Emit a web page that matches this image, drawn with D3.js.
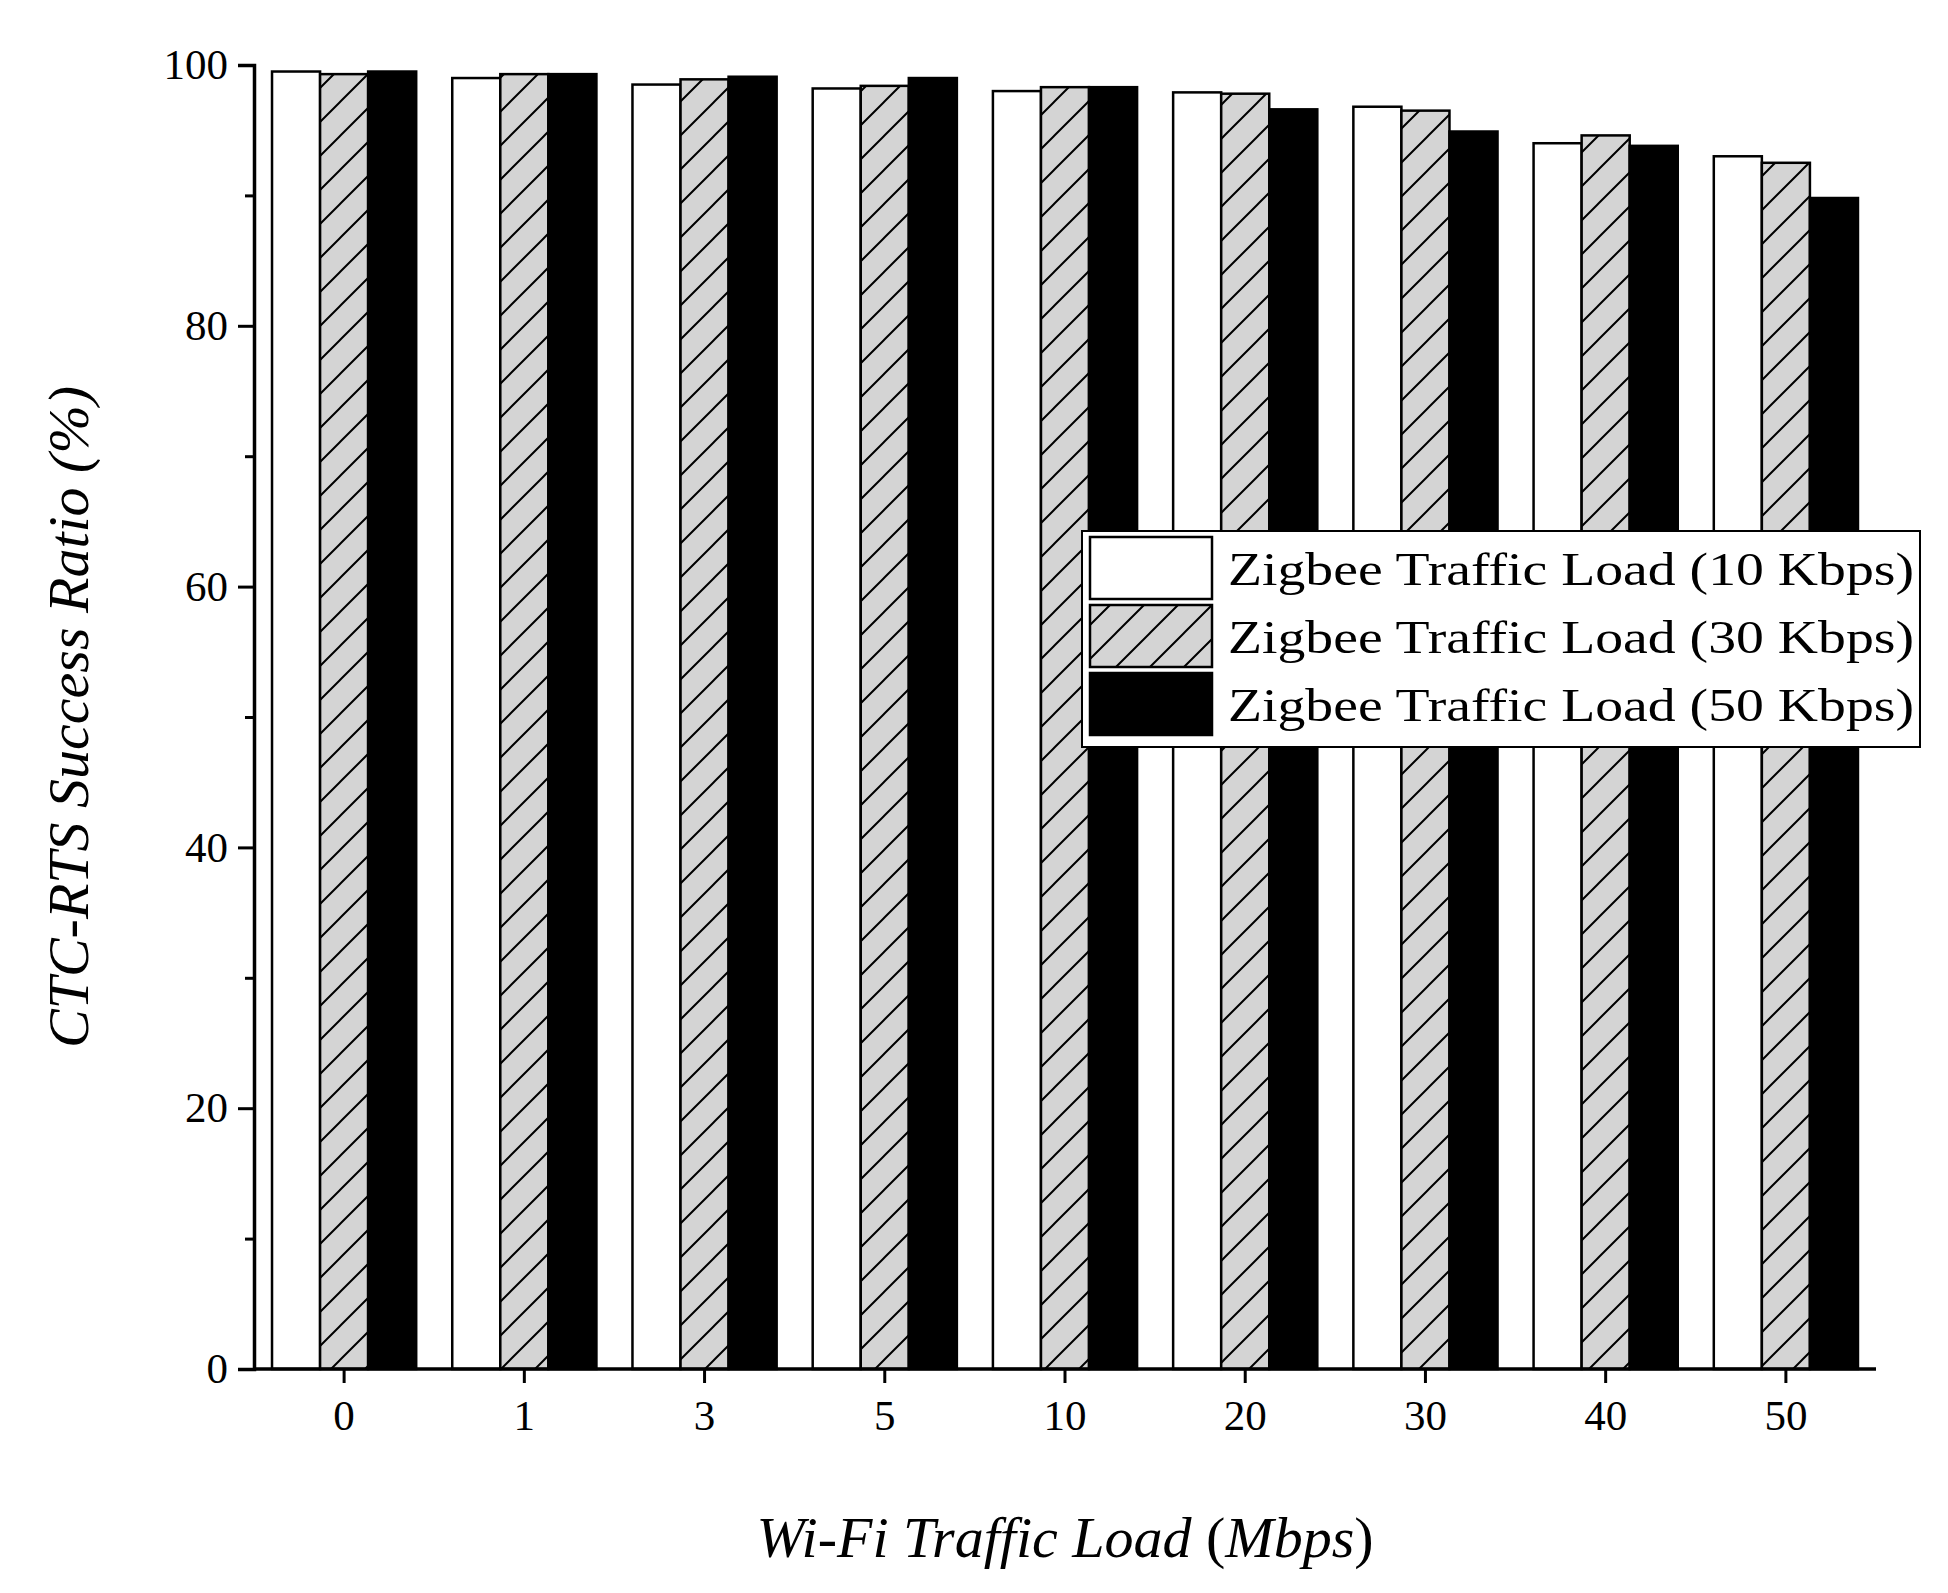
<!DOCTYPE html>
<html><head><meta charset="utf-8">
<script src="https://cdn.jsdelivr.net/npm/d3@7"></script>
<style>body{margin:0;background:#fff}</style></head>
<body><svg id="c" width="1948" height="1593"></svg>
<script>
const categories = ["0","1","3","5","10","20","30","40","50"];
const seriesNames = ["Zigbee Traffic Load (10 Kbps)","Zigbee Traffic Load (30 Kbps)","Zigbee Traffic Load (50 Kbps)"];
const s10 = [99.5,99.0,98.5,98.2,98.0,97.9,96.8,94.0,93.0];
const s30 = [99.3,99.3,98.9,98.4,98.3,97.8,96.5,94.6,92.5];
const s50 = [99.5,99.3,99.1,99.0,98.3,96.6,94.9,93.8,89.8];
const yTicks = [0,20,40,60,80,100];
const series = [s10,s30,s50];

const svg = d3.select("#c");
const L=254,R=1876,T=65,B=1369;
const defs = svg.append("defs");
const P=34;
const pat = defs.append("pattern").attr("id","hatch").attr("patternUnits","userSpaceOnUse")
  .attr("width",P).attr("height",P);
pat.append("rect").attr("width",P).attr("height",P).attr("fill","#d4d4d4");
pat.append("path").attr("d",`M-4,${P+4}L${P+4},-4M-4,4L4,-4M${P-4},${P+4}L${P+4},${P-4}`)
  .attr("stroke","#000").attr("stroke-width",2);
const fills = ["#fff","url(#hatch)","#000"];

const x = d3.scaleBand().domain(categories).range([L,R]).paddingInner(0.2).paddingOuter(0.1);
const xs = d3.scaleBand().domain([0,1,2]).range([0,x.bandwidth()]);
const y = d3.scaleLinear().domain([0,100]).range([B,T]);

series.forEach((s,i)=>{
  svg.append("g").selectAll("rect").data(s).join("rect")
    .attr("x",(d,j)=>x(categories[j])+xs(i)).attr("y",d=>y(d))
    .attr("width",xs.bandwidth()).attr("height",d=>B-y(d))
    .attr("fill",fills[i]).attr("stroke","#000").attr("stroke-width",2.5);
});

const font="'Liberation Serif','Times New Roman',serif";
svg.append("g").attr("transform",`translate(${L},0)`)
  .call(d3.axisLeft(y).tickValues(yTicks).tickSize(16).tickPadding(10));
svg.append("g").attr("transform",`translate(${L},0)`)
  .call(d3.axisLeft(y).tickValues(d3.range(10,100,20)).tickSize(9).tickFormat(""))
  .call(g=>g.select(".domain").remove());
const xa = svg.append("g").attr("transform",`translate(0,${B})`)
  .call(d3.axisBottom(x).tickSize(14).tickPadding(16).tickSizeOuter(0));
xa.select(".domain").attr("d",`M${L},0H${R}`);
svg.selectAll(".domain").attr("stroke-width",3.5);
svg.selectAll(".tick line").attr("stroke-width",3);
svg.selectAll(".tick text").attr("font-family",font).attr("font-size",43).attr("fill","#000");

svg.append("text").attr("transform",`translate(88,${(T+B)/2}) rotate(-90)`)
  .attr("text-anchor","middle").attr("font-family",font).attr("font-size",58).attr("font-style","italic")
  .text("CTC-RTS Success Ratio (%)");
const xt = svg.append("text").attr("x",(L+R)/2).attr("y",1557).attr("text-anchor","middle")
  .attr("font-family",font).attr("font-size",58);
xt.append("tspan").attr("font-style","italic").text("Wi-Fi Traffic Load ");
xt.append("tspan").text("(");
xt.append("tspan").attr("font-style","italic").text("Mbps");
xt.append("tspan").text(")");

const lg = svg.append("g").attr("transform","translate(1082,531)");
lg.append("rect").attr("width",838).attr("height",216).attr("fill","#fff").attr("stroke","#000").attr("stroke-width",2);
seriesNames.forEach((n,i)=>{
  lg.append("rect").attr("x",8).attr("y",6+i*68).attr("width",122).attr("height",62)
    .attr("fill",fills[i]).attr("stroke","#000").attr("stroke-width",2.5);
  lg.append("text").attr("x",146).attr("y",54+i*68).attr("font-family",font).attr("font-size",47)
    .attr("textLength",686).attr("lengthAdjust","spacingAndGlyphs").text(n);
});
</script></body></html>
